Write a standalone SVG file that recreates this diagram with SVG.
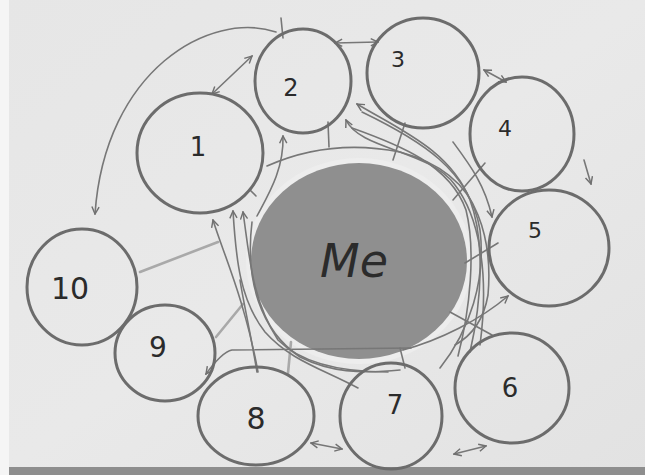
<svg xmlns="http://www.w3.org/2000/svg" width="645" height="475" viewBox="0 0 645 475">
<defs>
<linearGradient id="paper" x1="0" y1="0" x2="1" y2="1">
<stop offset="0" stop-color="#e6e6e6"/>
<stop offset="0.5" stop-color="#e9e9e9"/>
<stop offset="1" stop-color="#e2e2e2"/>
</linearGradient>
<marker id="ah" viewBox="0 0 10 10" refX="9" refY="5" markerWidth="9" markerHeight="9" orient="auto-start-reverse" markerUnits="userSpaceOnUse">
<path d="M1 1 L9 5 L1 9" fill="none" stroke="#707070" stroke-width="1.6"/>
</marker>
<style>
.node{fill:none;stroke:#6c6c6c;stroke-width:3}
.lbl{font-family:"DejaVu Sans","Liberation Sans",sans-serif;fill:#2b2b2b;text-anchor:middle}
.c{fill:none;stroke:#777;stroke-width:1.6;stroke-linecap:round}
.lt{fill:none;stroke:#a9a9a9;stroke-width:2.6;stroke-linecap:round}
</style>
</defs>
<rect width="645" height="475" fill="url(#paper)"/>
<rect x="0" y="0" width="9" height="475" fill="#f5f5f5"/>
<rect x="9" y="467" width="636" height="8" fill="#8e8e8e"/>

<g id="me">
<ellipse cx="359" cy="261" rx="113" ry="103" fill="#ededed"/>
<ellipse cx="359" cy="261" rx="108" ry="98" fill="#8f8f8f"/>
<text class="lbl" x="354" y="277" font-size="46" font-style="italic" fill="#1c1c1c">Me</text>
</g>

<g id="connectors">
<path class="c" d="M276 32 C210 10 105 70 95 214" marker-end="url(#ah)"/>
<path class="c" d="M281 18 L283 38"/>
<path class="c" d="M212 94 L252 56" marker-start="url(#ah)" marker-end="url(#ah)"/>
<path class="c" d="M335 43 L378 42" marker-start="url(#ah)" marker-end="url(#ah)"/>
<path class="c" d="M484 70 L506 82" marker-start="url(#ah)" marker-end="url(#ah)"/>
<path class="c" d="M584 160 L591 184" marker-end="url(#ah)"/>
<path class="c" d="M311 443 L342 449" marker-start="url(#ah)" marker-end="url(#ah)"/>
<path class="c" d="M454 454 L486 446" marker-start="url(#ah)" marker-end="url(#ah)"/>
<path class="c" d="M411 348 L232 350 Q222 352 206 374" marker-end="url(#ah)"/>
<path class="lt" d="M140 272 L218 242"/>
<path class="lt" d="M216 337 L243 304"/>
<path class="lt" d="M288 373 L291 342"/>
<path class="c" d="M267 166 Q330 138 400 152 Q460 168 478 215 Q492 250 488 295 Q482 330 455 345"/>
<path class="c" d="M328 122 L329 147"/>
<path class="c" d="M405 123 L393 160"/>
<path class="c" d="M257 216 C268 195 284 170 283 136" marker-end="url(#ah)"/>
<path class="c" d="M357 104 C400 130 450 150 470 200 C485 240 482 300 470 352" marker-start="url(#ah)"/>
<path class="c" d="M346 120 C360 150 430 150 455 185 C478 215 490 270 480 345" marker-start="url(#ah)"/>
<path class="c" d="M362 112 C420 140 470 170 480 230 C486 280 470 330 440 368"/>
<path class="c" d="M352 128 C400 145 450 165 466 210 C476 250 470 310 458 356"/>
<path class="c" d="M453 142 C470 165 485 185 492 217" marker-end="url(#ah)"/>
<path class="c" d="M485 163 L453 200"/>
<path class="c" d="M498 243 L465 263"/>
<path class="c" d="M403 350 C440 340 480 320 508 296" marker-end="url(#ah)"/>
<path class="c" d="M450 312 L492 335"/>
<path class="c" d="M405 368 L400 348"/>
<path class="c" d="M250 190 L256 196"/>
<path class="c" d="M213 220 C222 250 245 300 258 372" marker-start="url(#ah)"/>
<path class="c" d="M233 211 C236 260 240 300 265 332 C290 360 320 368 358 388" marker-start="url(#ah)"/>
<path class="c" d="M243 212 C250 260 252 300 278 340 C300 362 340 372 388 372" marker-start="url(#ah)"/>
<path class="c" d="M252 222 C245 280 260 330 300 357 C330 372 360 374 400 370"/>
<path class="c" d="M257 372 C250 330 243 300 240 280"/>
</g>

<g id="n1"><ellipse class="node" cx="200" cy="153" rx="63" ry="60"/><text class="lbl" x="198" y="156" font-size="26">1</text></g>
<g id="n2"><ellipse class="node" cx="303" cy="81" rx="48" ry="52"/><text class="lbl" x="291" y="96" font-size="24">2</text></g>
<g id="n3"><ellipse class="node" cx="423" cy="73" rx="56" ry="55"/><text class="lbl" x="398" y="67" font-size="22">3</text></g>
<g id="n4"><ellipse class="node" cx="522" cy="134" rx="52" ry="57"/><text class="lbl" x="505" y="136" font-size="22">4</text></g>
<g id="n5"><ellipse class="node" cx="549" cy="248" rx="60" ry="58"/><text class="lbl" x="535" y="238" font-size="22">5</text></g>
<g id="n6"><ellipse class="node" cx="512" cy="388" rx="57" ry="55"/><text class="lbl" x="510" y="397" font-size="26">6</text></g>
<g id="n7"><ellipse class="node" cx="391" cy="416" rx="51" ry="53"/><text class="lbl" x="395" y="414" font-size="26">7</text></g>
<g id="n8"><ellipse class="node" cx="256" cy="416" rx="58" ry="49"/><text class="lbl" x="256" y="429" font-size="30">8</text></g>
<g id="n9"><ellipse class="node" cx="165" cy="353" rx="50" ry="48"/><text class="lbl" x="158" y="357" font-size="28">9</text></g>
<g id="n10"><ellipse class="node" cx="82" cy="287" rx="55" ry="58"/><text class="lbl" x="70" y="299" font-size="30">10</text></g>
</svg>
